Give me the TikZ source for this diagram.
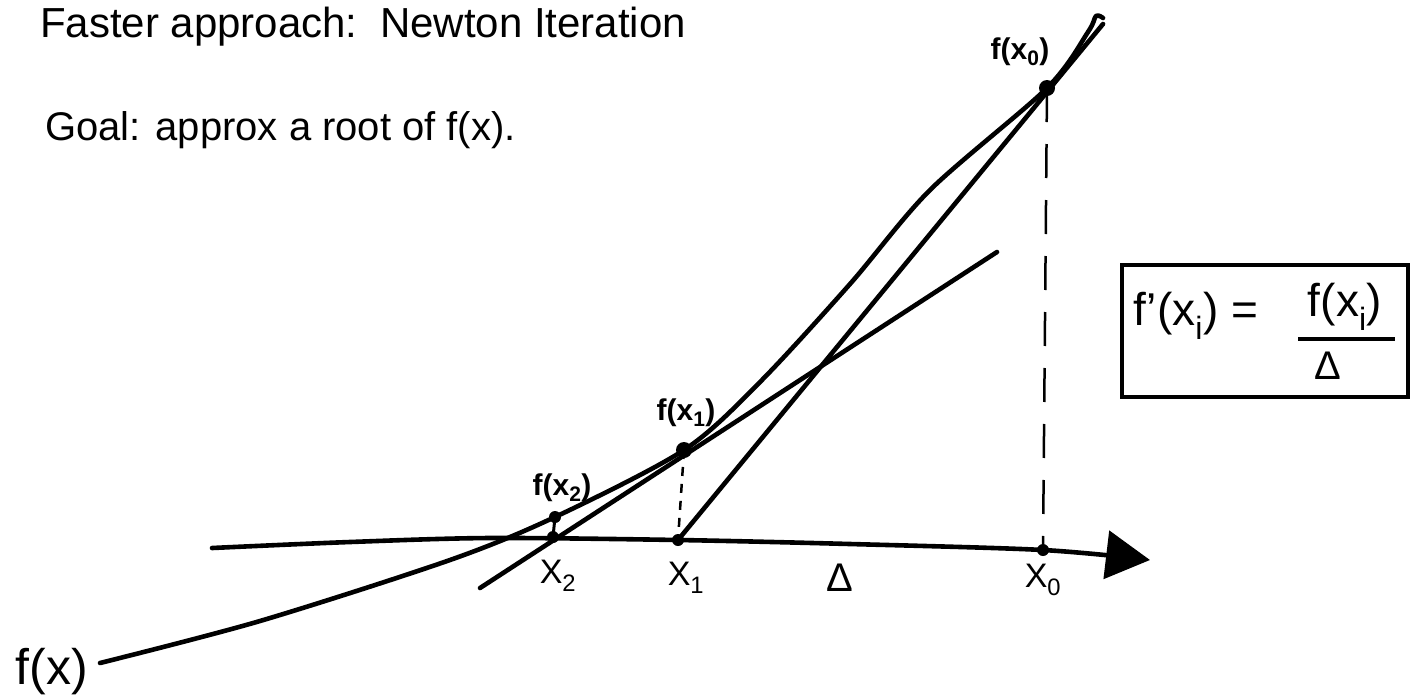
\documentclass[tikz,border=0pt]{standalone}
\usepackage{fontspec}
\setmainfont{Liberation Sans}
\usetikzlibrary{arrows.meta}
\begin{document}
\begin{tikzpicture}[x=1pt,y=-1pt,
  stroke/.style={line width=4.6pt, line cap=round, line join=round},
  fdash/.style={line width=2.5pt, dash pattern=on 9pt off 8pt},
  ldash/.style={line width=2.5pt, dash pattern=on 34pt off 22pt},
  dotbig/.style={circle, fill, inner sep=0pt, minimum size=16pt},
  dotsmall/.style={circle, fill, inner sep=0pt, minimum size=12pt},
  lbl/.style={font=\fontsize{30}{32}\selectfont\bfseries, inner sep=0pt},
  xlbl/.style={font=\fontsize{34}{36}\selectfont, inner sep=0pt},
  boxtxt/.style={font=\fontsize{46}{48}\selectfont, inner sep=0pt},
]
\useasboundingbox (0,0) rectangle (1412,697);

% titles
\node[font=\fontsize{42}{44}\selectfont, inner sep=0pt, anchor=base west] (title) at (40,37) {Faster approach:\, Newton Iteration};
\node[font=\fontsize{40}{42}\selectfont, inner sep=0pt, anchor=base west] (goal) at (45,140) {Goal: approx a root of f(x).};

% key points
\coordinate (F0) at (1047,88);
\coordinate (F1) at (684,450);
\coordinate (F2) at (555,517);
\coordinate (X0) at (1043,550);
\coordinate (X1) at (678,540);
\coordinate (X2) at (553,537);
\coordinate (A0) at (212,548);
\coordinate (A1) at (1150,560);
\coordinate (T1a) at (480,588);
\coordinate (T1b) at (997,252);
\coordinate (T0b) at (1103,24);
\coordinate (C0) at (100,663);

% x-axis
\draw[stroke, -{Triangle[length=44pt,width=48pt]}] plot[smooth] coordinates {(A0) (350,542) (490,538) (X1) (850,544) (X0) (A1)};

% the function f(x)
\draw[stroke] plot[smooth, tension=0.5] coordinates {(C0) (260,621) (450,560) (F2) (F1) (760,382) (850,284) (930,190) (F0) (1088,32) (1096,16) (1103,18)};

% tangents
\draw[stroke] (T1a) -- (T1b);
\draw[stroke] (X1) -- (T0b);

% verticals
\draw[fdash] (F1) -- (X1);
\draw[ldash] (F0) -- (X0);
\draw[line width=3pt] (F2) -- (X2);

% dots
\node[dotbig] (dF0) at (F0) {};
\node[dotbig] (dF1) at (F1) {};
\node[dotsmall] (dF2) at (F2) {};
\node[dotsmall] (dX0) at (X0) {};
\node[dotsmall] (dX1) at (X1) {};
\node[dotsmall] (dX2) at (X2) {};

% labels
\node[lbl] (lF0) at (1020,52) {f(x\textsubscript{0})};
\node[lbl] (lF1) at (686,413) {f(x\textsubscript{1})};
\node[lbl] (lF2) at (562,488) {f(x\textsubscript{2})};
\node[xlbl] (lX2) at (558,576) {X\textsubscript{2}};
\node[xlbl] (lX1) at (686,578) {X\textsubscript{1}};
\node[xlbl] (lX0) at (1043,580) {X\textsubscript{0}};
\node[font=\fontsize{40}{42}\selectfont, inner sep=0pt] (lD) at (840,578) {Δ};
\node[font=\fontsize{50}{52}\selectfont, inner sep=0pt] (lfx) at (52,672) {f(x)};

% formula box
\node[draw, line width=3.5pt, minimum width=286pt, minimum height=132pt, inner sep=0pt] (box) at (1265,331) {};
\node[boxtxt, anchor=base west] (lhs) at (1133,325) {f'(x\textsubscript{i}) =};
\node[boxtxt, anchor=base] (num) at (1345,316) {f(x\textsubscript{i})};
\coordinate (B0) at (1298,339);
\coordinate (B1) at (1395,339);
\draw[line width=3.5pt] (B0) -- (B1);
\node[font=\fontsize{40}{42}\selectfont, inner sep=0pt] (den) at (1328,366) {Δ};
\end{tikzpicture}
\end{document}
